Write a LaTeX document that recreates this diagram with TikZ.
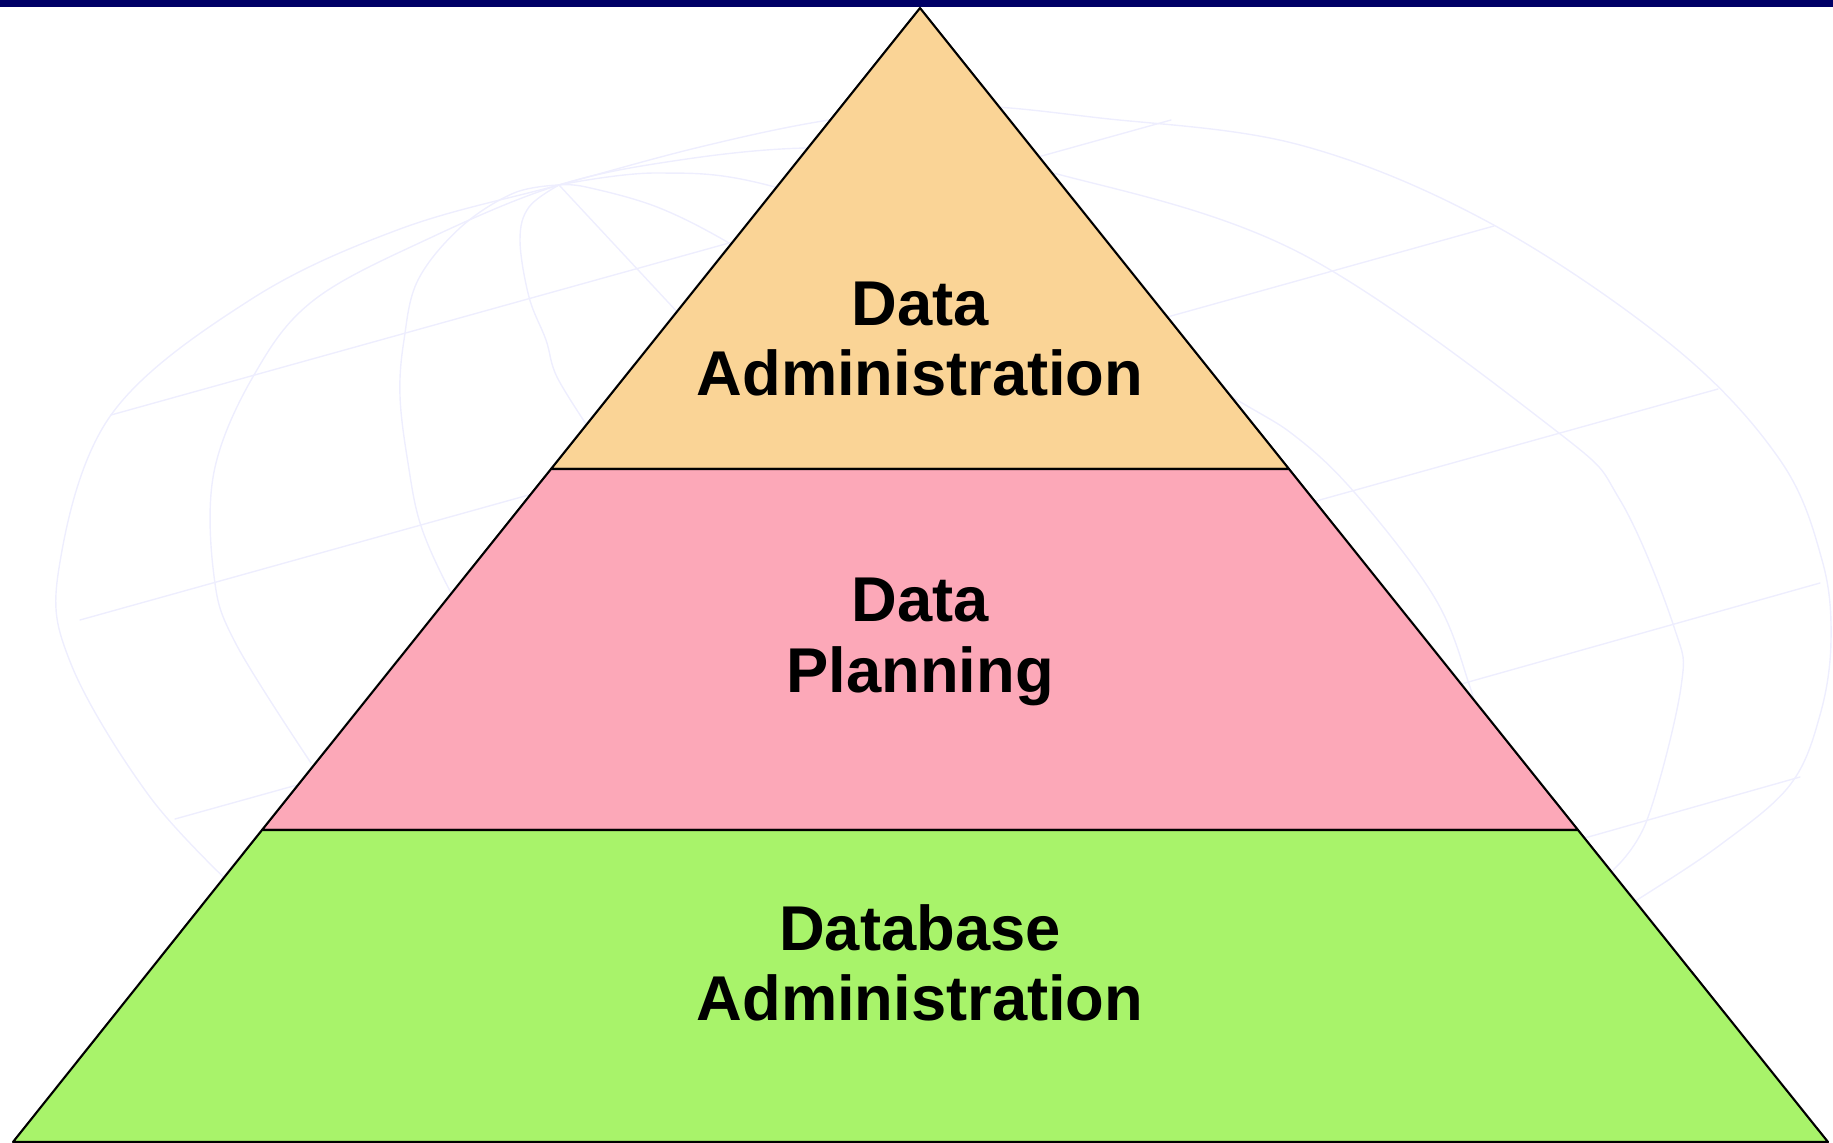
\documentclass[tikz,border=0pt]{standalone}
\usepackage{fontspec}
\setmainfont{Liberation Sans}
\definecolor{barblue}{RGB}{0,0,102}
\definecolor{globeline}{RGB}{238,238,254}
\definecolor{topfill}{RGB}{250,212,150}
\definecolor{midfill}{RGB}{252,168,184}
\definecolor{lowfill}{RGB}{168,243,106}
\tikzset{globe/.style={draw=globeline,line width=0.4pt},
	layer/.style={draw=black,line width=0.6pt},
	label/.style={align=center,inner sep=0pt,font=\fontsize{18}{20}\selectfont\bfseries}}
\begin{document}
\begin{tikzpicture}[x=0.01cm,y=-0.01cm,line join=round,line cap=round]
	\useasboundingbox (0,0) rectangle (1833,1143);
	\fill[barblue] (0,0) rectangle (1833,7);
	% globe in the back
	\coordinate (P) at (559,185);
	\draw[globe] plot[smooth,tension=0.6] coordinates {(240,893) (150,797) (71,664) (59,568) (111,415) (250,300) (400,229) (P) (700,147) (829,120) (960,106) (1100,118) (1300,145) (1490,223) (1674,347) (1780,460) (1822,560) (1831,640) (1820,715) (1790,785) (1720,845) (1637,900) (1600,922)};
	\draw[globe] plot[smooth,tension=0.6] coordinates {(311,763) (236,644) (214,576) (214,472) (254,375) (314,300) (430,238) (P) (680,160) (807,148) (930,155) (1061,175) (1300,253) (1555,430) (1620,500) (1674,627) (1681,687) (1647,820) (1613,870)};
	\draw[globe] plot[smooth,tension=0.6] coordinates {(P) (657,173) (775,187) (1000,265) (1230,396) (1300,440) (1361,500) (1436,600) (1470,687) (1490,760)};
	\draw[globe] plot[smooth,tension=0.6] coordinates {(P) (514,193) (461,227) (418,280) (404,340) (400,396) (408,463) (421,526) (450,591) (480,640)};
	\draw[globe] plot[smooth,tension=0.6] coordinates {(P) (529,207) (520,240) (529,297) (546,340) (557,377) (590,430)};
	\draw[globe] plot[smooth,tension=0.6] coordinates {(P) (586,187) (657,207) (729,243) (800,290)};
	\draw[globe] (P)--(680,315);
	\draw[globe] (111,415)--(1171,120) (80,620)--(1494,226) (175,819)--(1718,389)
		(1440,690)--(1820,583) (1560,845)--(1800,777);
	% pyramid corners
	\path (920,8) coordinate (T)
		(551,469) coordinate (A1) (1289,469) coordinate (B1)
		(262,830) coordinate (A2) (1578,830) coordinate (B2)
		(13,1142) coordinate (A3) (1828,1142) coordinate (B3);
	\draw[layer,fill=topfill] (T)--(B1)--(A1)--cycle;
	\draw[layer,fill=midfill] (A1)--(B1)--(B2)--(A2)--cycle;
	\draw[layer,fill=lowfill] (A2)--(B2)--(B3)--(A3)--cycle;
	\foreach \n/\y/\t in {dataadmin/339/{Data\\Administration},dataplan/642/{Data\\Planning},dbadmin/963/{Database\\Administration}}
	{\node[label] (\n) at (920,\y) {\t};}
\end{tikzpicture}
\end{document}
